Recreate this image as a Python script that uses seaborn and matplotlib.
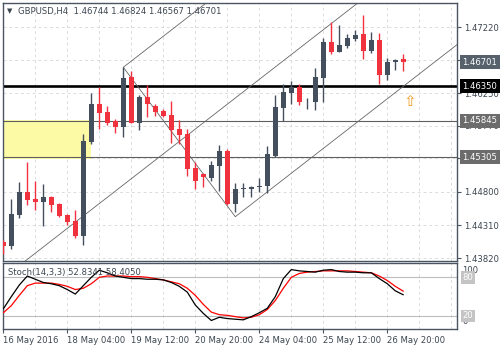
import numpy as np
import pandas as pd
import matplotlib
matplotlib.use("Agg")
import matplotlib.pyplot as plt
import matplotlib.transforms as mtransforms
import seaborn as sns

# ---------------- data ----------------
opens = [1.44066, 1.44007, 1.44458, 1.44796, 1.44689, 1.44654, 1.44723, 1.44620, 1.44458, 1.44370,
         1.44154, 1.45531, 1.46089, 1.45971, 1.45839, 1.45755, 1.46490, 1.45814, 1.46192, 1.46059,
         1.45986, 1.45927, 1.45722, 1.45653, 1.45153, 1.45065, 1.45006, 1.45182, 1.45403, 1.44620,
         1.44840, 1.44836, 1.44862, 1.44885, 1.45329, 1.46035, 1.46246, 1.46343, 1.46155, 1.46123,
         1.46475, 1.47000, 1.46857, 1.46945, 1.47044, 1.47122, 1.46867, 1.47029, 1.46519, 1.46701,
         1.46744]
highs = [1.44091, 1.44698, 1.44943, 1.45241, 1.44958, 1.44914, 1.44738, 1.44630, 1.44473, 1.44532,
         1.45648, 1.46246, 1.46343, 1.46059, 1.45864, 1.46628, 1.46574, 1.46221, 1.46368, 1.46093,
         1.46011, 1.46133, 1.45854, 1.45722, 1.45237, 1.45071, 1.45256, 1.45487, 1.45432, 1.44928,
         1.44921, 1.44884, 1.45003, 1.45479, 1.46221, 1.46383, 1.46427, 1.46378, 1.46181, 1.46622,
         1.47054, 1.47289, 1.47249, 1.47122, 1.47176, 1.47392, 1.47147, 1.47136, 1.46769, 1.46745,
         1.46824]
lows = [1.43885, 1.43963, 1.44419, 1.44601, 1.44536, 1.44301, 1.44507, 1.44433, 1.44311, 1.44116,
        1.44022, 1.45506, 1.45726, 1.45776, 1.45658, 1.45611, 1.45805, 1.45707, 1.45902, 1.45913,
        1.45902, 1.45512, 1.45497, 1.45036, 1.44845, 1.44870, 1.44962, 1.44815, 1.44610, 1.44502,
        1.44724, 1.44724, 1.44797, 1.44788, 1.45314, 1.45839, 1.46089, 1.46079, 1.46020, 1.46005,
        1.46123, 1.46819, 1.46857, 1.46916, 1.47019, 1.46750, 1.46834, 1.46387, 1.46441, 1.46588,
        1.46567]
closes = [1.44007, 1.44473, 1.44796, 1.44683, 1.44654, 1.44723, 1.44610, 1.44448, 1.44360, 1.44154,
          1.45545, 1.46089, 1.45961, 1.45814, 1.45755, 1.46466, 1.45814, 1.46192, 1.46093, 1.45976,
          1.45917, 1.45707, 1.45633, 1.45138, 1.44962, 1.45012, 1.45193, 1.45403, 1.44620, 1.44840,
          1.44845, 1.44867, 1.44885, 1.45354, 1.46045, 1.46265, 1.46343, 1.46123, 1.46162, 1.46486,
          1.47000, 1.46857, 1.46956, 1.47058, 1.47102, 1.46872, 1.47029, 1.46519, 1.46706, 1.46735,
          1.46701]

stoch_k = [31, 50, 68, 82, 77, 72, 70, 67, 61, 54, 67, 80, 91, 87, 82, 80, 78, 78, 77, 77,
           76, 72, 66, 57, 37, 24, 13, 18, 16, 15, 14, 19, 25, 32, 50, 78, 92, 90, 89, 88,
           91, 92, 89, 88, 88, 87, 87, 78, 70, 59, 52.8341]
stoch_d = [25, 36, 52, 67, 71, 71, 71, 69, 66, 61, 63, 70, 80, 82, 82, 82, 81, 81, 80, 78,
           76, 73, 70, 63, 52, 38, 26, 22, 21, 19, 17, 18, 22, 30, 44, 63, 80, 86, 88, 89,
           90, 90, 90, 90, 89, 88, 87, 82, 75, 66, 58.4050]

date_ticks = [0, 8, 16, 24, 32, 40, 48]
date_labels = ["16 May 2016", "18 May 04:00", "19 May 12:00", "20 May 20:00",
               "24 May 04:00", "25 May 12:00", "26 May 20:00"]

price_ticks = [1.47220, 1.46730, 1.46250, 1.45770, 1.45290, 1.44800, 1.44310, 1.43820]

level_black = 1.46350
levels_gray = [1.45845, 1.45305]
zone = [1.45281, 1.45854]      # yellow zone low/high
zone_end = 11.0                # bar index where the zone ends
current_price = 1.46701

# channel anchors (bar index, price) and slope per bar
pivot = (15, 1.46628)
vertex = (29, 1.44433)
lower_anchor = (15, 1.44900)
channel_slope = 0.000912

arrow_pos = (50.84, 1.46123)

# ---------------- style ----------------
sns.set_theme(style="white")
plt.rcParams["font.family"] = ["DejaVu Sans"]
TXT = "#3c4650"
BULL = "#434f5d"
BEAR = "#f0323f"
FRAME = "#4a5561"
FS = 6.1

fig = plt.figure(figsize=(5, 3.5), dpi=100)
ax = fig.add_axes([0.005, 0.2529, 0.909, 0.7386])
ax2 = fig.add_axes([0.005, 0.06, 0.909, 0.18857], sharex=ax)

xmin, xmax = -0.1, 56.71
ax.set_xlim(xmin, xmax)
ax.set_ylim(1.43775, 1.47573)
ax2.set_ylim(-0.2, 102.2)

for a in (ax, ax2):
    for s in a.spines.values():
        s.set_color(FRAME)
        s.set_linewidth(1.0)
    a.set_facecolor("white")

# grids
for p in price_ticks:
    ax.axhline(p, color="#dcdcdc", lw=0.7, ls=(0, (3, 3)), zorder=0)
for gx in range(0, 57, 4):
    ax.axvline(gx, color="#dcdcdc", lw=0.7, ls=(0, (3, 3)), zorder=0)
    ax2.axvline(gx, color="#dcdcdc", lw=0.7, ls=(0, (3, 3)), zorder=0)

# yellow zone
ax.fill_between([xmin, zone_end], zone[0], zone[1], color="#fdfaa6", zorder=0.5, lw=0)

# horizontal levels
ax.axhline(level_black, color="black", lw=1.9, zorder=1.5)
for lv in levels_gray:
    ax.axhline(lv, color="#5f5f5f", lw=0.8, zorder=1.5)

# channel lines
xs = np.array([-20, 80])
ax.plot(xs, lower_anchor[1] + channel_slope * (xs - lower_anchor[0]), color="#666666", lw=0.6, zorder=1.6)
xb = np.array([pivot[0], 80])
ax.plot(xb, pivot[1] + channel_slope * (xb - pivot[0]), color="#666666", lw=0.6, zorder=1.6)
ax.plot([pivot[0], vertex[0]], [pivot[1], vertex[1]], color="#666666", lw=0.6, zorder=1.6)
xd = np.array([vertex[0], 80])
ax.plot(xd, vertex[1] + channel_slope * (xd - vertex[0]), color="#666666", lw=0.6, zorder=1.6)

# candles
df = pd.DataFrame({"o": opens, "h": highs, "l": lows, "c": closes})
df["k"] = np.arange(len(df))
for _, r in df.iterrows():
    col = BULL if r.c >= r.o else BEAR
    ax.vlines(r.k, r.l, r.h, color=col, lw=1.0, zorder=3)
    body = max(abs(r.c - r.o), 0.00012)
    ax.bar(r.k, body, bottom=min(r.o, r.c), width=0.6, color=col, lw=0, zorder=3)

# arrow
ax.text(arrow_pos[0], arrow_pos[1], "\u21e7", color="#f39c1f", fontsize=11,
        ha="center", va="center", zorder=4)

# right axis ticks
ax.yaxis.tick_right()
ax.set_yticks(price_ticks)
ax.set_yticklabels([f"{p:.5f}" for p in price_ticks])
ax.tick_params(axis="y", right=True, length=3, width=0.8, color=FRAME, labelsize=FS,
               labelcolor=TXT, pad=2)
ax.tick_params(axis="x", bottom=False, labelbottom=False)

# boxed price labels
trans = mtransforms.blended_transform_factory(ax.transAxes, ax.transData)
boxes = [(current_price, "#56616c"), (level_black, "black"),
         (levels_gray[0], "#6c6c6c"), (levels_gray[1], "#6c6c6c")]
for p, fc in boxes:
    ax.text(1.012, p, f"{p:.5f}", transform=trans, ha="left", va="center", fontsize=FS,
            color="white", zorder=6, clip_on=False,
            bbox=dict(boxstyle="square,pad=0.3", fc=fc, ec="none"))

# header
fig.text(0.014, 0.967, "\u25bc", fontsize=5, color=TXT, va="center", ha="left")
fig.text(0.036, 0.967, "GBPUSD,H4  1.46744 1.46824 1.46567 1.46701", fontsize=FS,
         color=TXT, va="center", ha="left")

# stochastic
sdf = pd.DataFrame({"k": np.arange(len(stoch_k)), "K": stoch_k, "D": stoch_d})
sns.lineplot(data=sdf, x="k", y="D", ax=ax2, color="#ff0000", lw=0.9, zorder=3)
sns.lineplot(data=sdf, x="k", y="K", ax=ax2, color="black", lw=0.9, zorder=4)
for lv in (80, 20):
    ax2.axhline(lv, color="#bdbdbd", lw=0.8, zorder=1)
ax2.set_ylabel("")
ax2.set_xlabel("")
ax2.yaxis.tick_right()
ax2.set_yticks([])
trans2 = mtransforms.blended_transform_factory(ax2.transAxes, ax2.transData)
ax2.text(1.012, 91, "100", transform=trans2, ha="left", va="center", fontsize=FS, color=TXT, clip_on=False)
ax2.text(1.012, 11, "0", transform=trans2, ha="left", va="center", fontsize=FS, color=TXT, clip_on=False)
for lv in (80, 20):
    ax2.text(1.012, lv, str(lv), transform=trans2, ha="left", va="center", fontsize=FS,
             color="white", zorder=6, clip_on=False,
             bbox=dict(boxstyle="square,pad=0.2", fc="#c4c4c4", ec="none"))
ax2.text(0.012, 0.86, "Stoch(14,3,3) 52.8341 58.4050", transform=ax2.transAxes,
         fontsize=FS, color=TXT, ha="left", va="center", zorder=5)

ax2.set_xticks(date_ticks)
ax2.set_xticklabels(date_labels, ha="left")
ax2.tick_params(axis="x", bottom=True, length=3, width=0.8, color=FRAME, labelsize=FS,
                labelcolor=TXT, pad=2)
for lab in ax2.get_xticklabels():
    lab.set_horizontalalignment("left")
ax2.set_xlim(xmin, xmax)

fig.savefig("out.png", dpi=100)
